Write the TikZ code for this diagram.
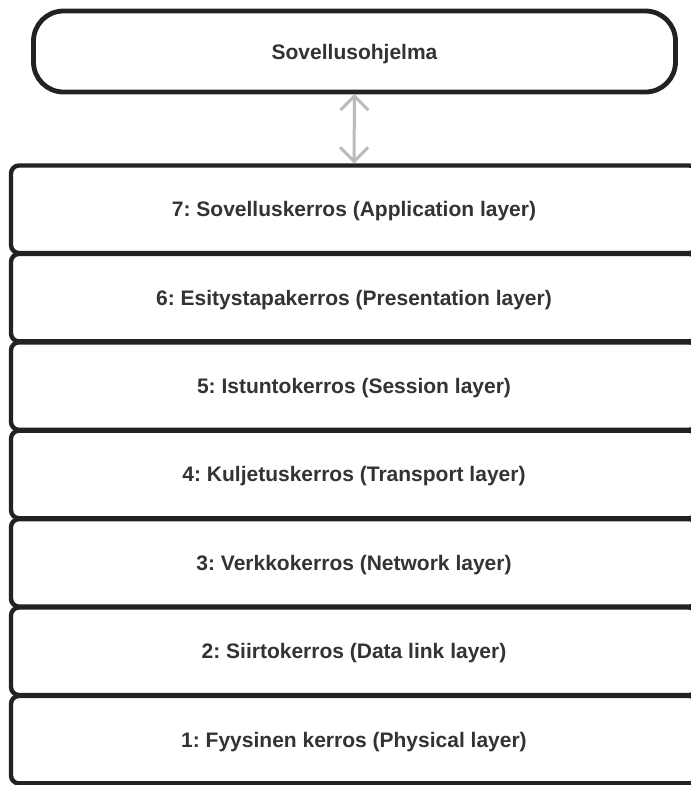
\documentclass[tikz,border=0pt]{standalone}
\usepackage{fontspec}
\setmainfont{Liberation Sans}
\usetikzlibrary{arrows.meta}
\definecolor{ink}{HTML}{222222}
\definecolor{txt}{HTML}{333333}
\definecolor{link}{HTML}{BBBBBB}
\begin{document}
\frenchspacing
\begin{tikzpicture}[x=1pt,y=-1pt,
  every node/.style={font=\fontsize{21}{25}\selectfont\bfseries, text=txt,
    text height=15pt, text depth=0pt},
  appbox/.style={draw=ink, line width=4.8pt, rounded corners=30pt,
    minimum width=642pt, minimum height=81pt, inner sep=0pt, outer sep=0pt},
  layerbox/.style={draw=ink, line width=4.4pt, rounded corners=8pt,
    minimum width=686pt, minimum height=87.5pt, inner sep=0pt, outer sep=0pt},
  link/.style={draw=link, line width=3pt,
    {Straight Barb[length=14pt,width=28pt,line width=3pt]}-{Straight Barb[length=14pt,width=28pt,line width=3pt]}}]
  \useasboundingbox (0,0) rectangle (691,785);
  \clip (0,0) rectangle (691,785);
  \fill[white] (0,0) rectangle (691,785);

  % application program
  \node[appbox] (app) at (354.5,51.5) {Sovellusohjelma};

  % OSI layers, top to bottom
  \foreach \n/\lbl [count=\i from 0] in {
      l7/{7: Sovelluskerros (Application layer)},
      l6/{6: Esitystapakerros (Presentation layer)},
      l5/{5: Istuntokerros (Session layer)},
      l4/{4: Kuljetuskerros (Transport layer)},
      l3/{3: Verkkokerros (Network layer)},
      l2/{2: Siirtokerros (Data link layer)},
      l1/{1: Fyysinen kerros (Physical layer)}}
    \node[layerbox] (\n) at (354, {209.25+\i*88.4}) {\lbl};

  % interface between program and application layer
  \draw[link, shorten <=2pt, shorten >=2pt] (app.south) -- (l7.north);
\end{tikzpicture}
\end{document}
